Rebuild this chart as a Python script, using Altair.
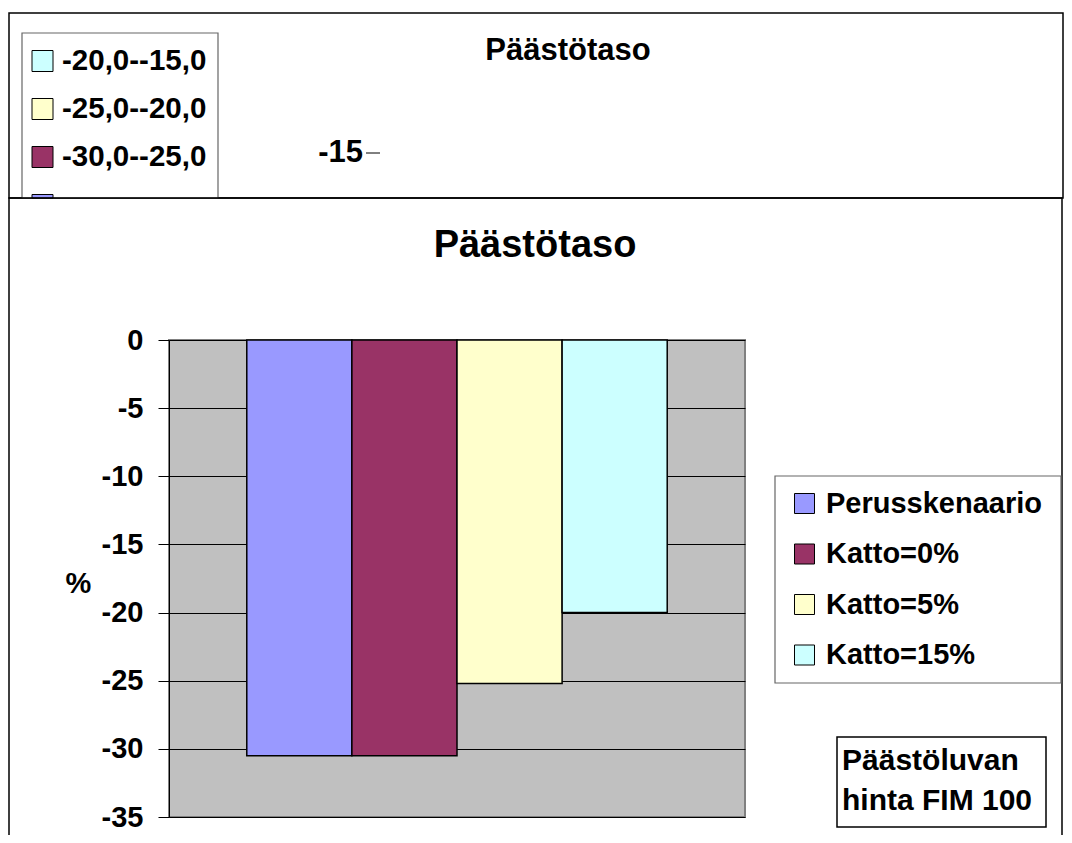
import altair as alt
import pandas as pd

# ---- data ----
series = ["Perusskenaario", "Katto=0%", "Katto=5%", "Katto=15%"]
values = [-30.5, -30.5, -25.2, -20.0]
colors = ["#9999FF", "#993366", "#FFFFCC", "#CCFFFF"]
y_ticks = [0, -5, -10, -15, -20, -25, -30, -35]
title_text = "Päästötaso"
note_lines = ["Päästöluvan", "hinta FIM 100"]
top_title_text = "Päästötaso"
top_legend_labels = ["-20,0--15,0", "-25,0--20,0", "-30,0--25,0", "-35,0--30,0"]
top_legend_colors = ["#CCFFFF", "#FFFFCC", "#993366", "#9999FF"]
top_axis_label = "-15"

FONT = "Liberation Sans"
W, H = 576, 477

one = alt.Data(values=[{}])


def rect(x1, x2, y1, y2, **kw):
    return alt.Chart(one).mark_rect(**kw).encode(
        x=alt.value(x1), x2=alt.value(x2), y=alt.value(y1), y2=alt.value(y2)
    )


def text(s, x, y, **kw):
    return alt.Chart(one).mark_text(font=FONT, fontWeight="bold", color="black", **kw).encode(
        x=alt.value(x), y=alt.value(y), text=alt.value(s)
    )


layers = []

# ---- partially hidden chart behind ----
layers.append(rect(-160, 894, -327, -142, fill="white", stroke="black", strokeWidth=1.5))
layers.append(text(top_title_text, 399, -280, fontSize=31, align="center", baseline="alphabetic"))
layers.append(rect(-147, 49, -307, -142, fill="white", stroke="#666666", strokeWidth=1.2))
for i, (lab, col) in enumerate(zip(top_legend_labels, top_legend_colors)):
    cy = -279 + i * 48
    top = cy - 10.5
    bot = min(cy + 10.5, -142)
    layers.append(rect(-137, -116, top, bot, fill=col, stroke="black", strokeWidth=1))
    if cy + 12 < -142:
        layers.append(text(lab, -107, cy, fontSize=29.5, align="left", baseline="middle"))
layers.append(text(top_axis_label, 194, -187, fontSize=31, align="right", baseline="middle"))
layers.append(
    alt.Chart(one).mark_rule(color="black", strokeWidth=1).encode(
        x=alt.value(197), x2=alt.value(211), y=alt.value(-187)
    )
)

# ---- main chart frame (stroke only) ----
layers.append(rect(-160, 893, -142, 520, fill="transparent", stroke="black", strokeWidth=1.5))

y_scale = alt.Scale(domain=[-35, 0], nice=False, zero=False)
y_axis = alt.Axis(
    values=y_ticks,
    grid=True,
    gridColor="black",
    gridWidth=1,
    tickSize=11,
    tickColor="black",
    domainColor="black",
    labelExpr="toString(datum.value)",
    labelFont=FONT,
    labelFontSize=29,
    labelFontWeight="bold",
    labelColor="black",
    labelPadding=15,
    title="%",
    titleAngle=0,
    titleX=-91,
    titleY=243,
    titleAlign="center",
    titleBaseline="middle",
    titleFont=FONT,
    titleFontSize=29,
    titleFontWeight="bold",
    titleColor="black",
)

# legend box
layers.append(rect(606, 892, 136, 343, fill="white", stroke="#666666", strokeWidth=1.2))

bars_df = pd.DataFrame({"series": series, "value": values})
bars = alt.Chart(bars_df).mark_bar(stroke="black", strokeWidth=1.5).encode(
    x=alt.X(
        "series:N",
        sort=series,
        scale=alt.Scale(domain=series, paddingInner=0, paddingOuter=0.74),
        axis=None,
    ),
    y=alt.Y("value:Q", scale=y_scale, axis=y_axis),
    fill=alt.Fill(
        "series:N",
        sort=series,
        scale=alt.Scale(domain=series, range=colors),
        legend=alt.Legend(
            title=None,
            orient="none",
            legendX=621,
            legendY=149,
            padding=0,
            symbolType="square",
            symbolSize=400,
            symbolStrokeColor="black",
            symbolStrokeWidth=1,
            symbolOffset=0,
            labelFont=FONT,
            labelFontSize=29,
            labelFontWeight="bold",
            labelColor="black",
            labelLimit=400,
            labelOffset=7,
            rowPadding=20.5,
        ),
    ),
)
layers.append(bars)

# title
layers.append(text(title_text, 366, -83, fontSize=38, align="center", baseline="alphabetic"))

# note box
layers.append(rect(668, 877, 397, 487, fill="white", stroke="black", strokeWidth=1.5))
layers.append(text(note_lines[0], 673, 430, fontSize=30, align="left", baseline="alphabetic"))
layers.append(text(note_lines[1], 673, 470, fontSize=30, align="left", baseline="alphabetic"))

chart = (
    alt.layer(*layers)
    .properties(
        width=W,
        height=H,
        autosize=alt.AutoSizeParams(type="none"),
        padding={"left": 161, "top": 332, "right": 319, "bottom": 18},
        background="white",
    )
    .configure_view(stroke="#808080", strokeWidth=2, fill="#C0C0C0")
)

chart.save("out.html", embed_options={"renderer": "svg", "actions": False})
